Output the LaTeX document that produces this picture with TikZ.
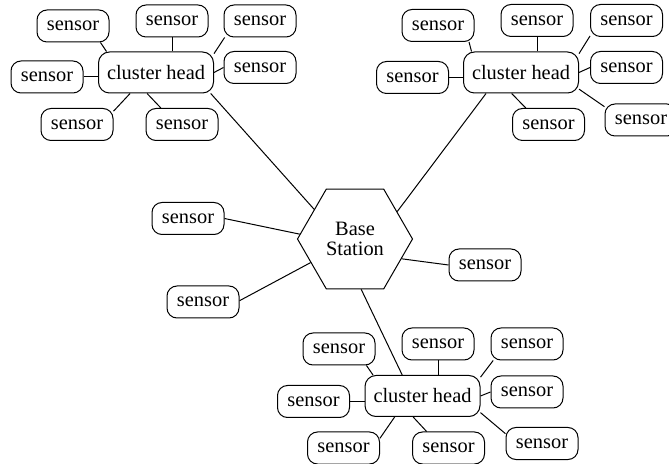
\documentclass[tikz,border=0pt]{standalone}
\usepackage{fontspec}
\setmainfont{Liberation Serif}
\usetikzlibrary{shapes.geometric}

\begin{document}
\begin{tikzpicture}[x=0.5pt, y=-0.5pt, line width=0.5pt,
    every node/.style={font=\fontsize{10.2}{12}\selectfont},
    sensor/.style={draw, rounded corners=5pt, minimum width=36pt, minimum height=16pt, inner sep=0pt},
    head/.style={draw, rounded corners=5.5pt, minimum width=57.5pt, minimum height=20.5pt, inner sep=0pt},
    station/.style={draw, regular polygon, regular polygon sides=6, minimum size=57.5pt,
        inner sep=0pt, align=center, font=\fontsize{10.2}{10}\selectfont}]
    \useasboundingbox (0,0) rectangle (669,464);

    % Base station
    \node[station] (bs) at (355,239) {Base\\Station};
    \node[sensor] (s0a) at (188,218.5) {sensor};
    \node[sensor] (s0b) at (203,302) {sensor};
    \node[sensor] (s0c) at (485,265) {sensor};

    % Cluster heads
    \node[head] (ch1) at (156,72.5) {cluster head};
    \node[head] (ch2) at (521,72.5) {cluster head};
    \node[head] (ch3) at (422.5,396) {cluster head};

    % Sensors, top left
    \node[sensor] (s1a) at (73,26) {sensor};
    \node[sensor] (s1b) at (172,21) {sensor};
    \node[sensor] (s1c) at (260,21) {sensor};
    \node[sensor] (s1d) at (47,77) {sensor};
    \node[sensor] (s1e) at (260,67.5) {sensor};
    \node[sensor] (s1f) at (77,124.5) {sensor};
    \node[sensor] (s1g) at (182,124.5) {sensor};

    % Sensors, top right
    \node[sensor] (s2a) at (438,25.5) {sensor};
    \node[sensor] (s2b) at (537,20.5) {sensor};
    \node[sensor] (s2c) at (626.5,20.5) {sensor};
    \node[sensor] (s2d) at (412.5,77.5) {sensor};
    \node[sensor] (s2e) at (626.5,67.5) {sensor};
    \node[sensor] (s2f) at (548.5,124.5) {sensor};
    \node[sensor] (s2g) at (641,120) {sensor};

    % Sensors, bottom
    \node[sensor] (s3a) at (339,349) {sensor};
    \node[sensor] (s3b) at (438,344) {sensor};
    \node[sensor] (s3c) at (527,344) {sensor};
    \node[sensor] (s3d) at (313.5,401.5) {sensor};
    \node[sensor] (s3e) at (527,392) {sensor};
    \node[sensor] (s3f) at (343.5,448) {sensor};
    \node[sensor] (s3g) at (448.5,448) {sensor};
    \node[sensor] (s3h) at (542,443.5) {sensor};

    % Links to the base station
    \draw (s0a.east) -- (bs.175);
    \draw (s0b.2) -- (bs.208);
    \draw (s0c.west) -- (bs.-23);
    \draw (ch1.-21) -- (bs.144);
    \draw (ch2.211) -- (bs.33);
    \draw (ch3.134) -- (bs.-83);

    % Links in the clusters
    \draw (s1a.-31) -- (ch1.157);
    \draw (s1b.south) -- (s1b.south |- ch1.north);
    \draw (s1c.205) -- (ch1.18);
    \draw (s1d) -- (s1d -| ch1.west);
    \draw (s1e.west) -- (ch1.east);
    \draw (s1f.20) -- (ch1.219);
    \draw (s1g.142) -- (ch1.247);

    \draw (s2a.-28) -- (ch2.157);
    \draw (s2b.south) -- (s2b.south |- ch2.north);
    \draw (s2c.203) -- (ch2.18);
    \draw (s2d) -- (s2d -| ch2.west);
    \draw (s2e.west) -- (ch2.east);
    \draw (s2f.144) -- (ch2.246);
    \draw (s2g.160) -- (ch2.-16);

    \draw (s3a.-31) -- (ch3.157);
    \draw (s3b.south) -- (s3b.south |- ch3.north);
    \draw (s3c.206) -- (ch3.18);
    \draw (s3d) -- (s3d -| ch3.west);
    \draw (s3e.west) -- (ch3.east);
    \draw (s3f.15) -- (ch3.217);
    \draw (s3g.143) -- (ch3.246);
    \draw (s3h.165) -- (ch3.-16.5);
\end{tikzpicture}
\end{document}
